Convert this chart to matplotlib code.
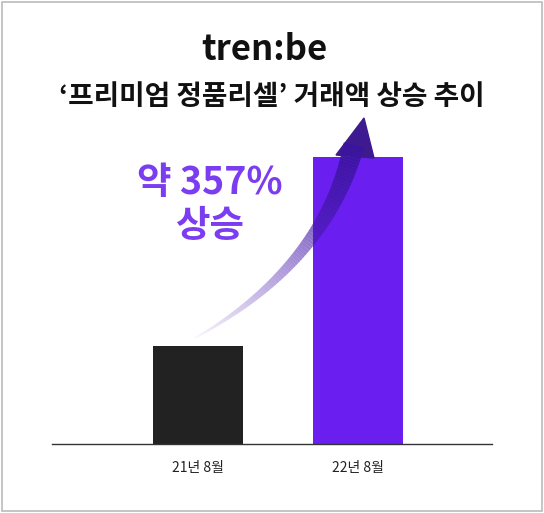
import matplotlib
matplotlib.use("Agg")
import matplotlib.pyplot as plt
import numpy as np
from matplotlib.collections import LineCollection
from matplotlib.patches import Polygon, Rectangle

plt.rcParams['font.family'] = ['Noto Sans CJK KR', 'DejaVu Sans']

categories = ['21년 8월', '22년 8월']
values = [98, 287]
colors = ['#222222', '#6a1ff0']

W, H = 544, 513
fig = plt.figure(figsize=(W/100, H/100), dpi=100)
fig.patch.set_facecolor('white')
fig.add_artist(Rectangle((0.004, 0.004), 0.992, 0.992, transform=fig.transFigure,
                         fill=False, edgecolor='#bbbbbb', lw=1.2))

ax = fig.add_axes([52/W, (H-444)/H, 440/W, 300/H])
ax.set_xlim(0, 440)
ax.set_ylim(0, 300)
ax.bar([146, 306], values, width=90, color=colors)
for s in ['top', 'right', 'left']:
    ax.spines[s].set_visible(False)
ax.spines['bottom'].set_color('#333333')
ax.spines['bottom'].set_linewidth(1)
ax.set_yticks([])
ax.set_xticks([146, 306])
ax.set_xticklabels(categories, fontsize=10, color='#222222')
ax.tick_params(axis='x', length=0, pad=12)

ov = fig.add_axes([0, 0, 1, 1])
ov.set_xlim(0, W); ov.set_ylim(H, 0); ov.axis('off')

ov.text(264, 50, 'tren:be', ha='center', va='center', fontsize=25, fontweight='bold', color='#111111')
ov.text(272, 97, '‘프리미엄 정품리셀’ 거래액 상승 추이', ha='center', va='center',
        fontsize=20, fontweight='bold', color='#111111')
ov.text(210, 204, '약 357%\n상승', ha='center', va='center', fontsize=27, fontweight='bold',
        color='#7b3df0', linespacing=1.15)

t = np.linspace(0, 1, 80)
p0, p1, p2 = np.array([195, 338]), np.array([325, 265]), np.array([354, 145])
pts = ((1-t)**2)[:, None]*p0 + (2*(1-t)*t)[:, None]*p1 + (t**2)[:, None]*p2
segs = np.stack([pts[:-1], pts[1:]], axis=1)
cols = [(0.33 - 0.1*a, 0.13 - 0.05*a, 0.72 - 0.1*a, a) for a in np.linspace(0.05, 1, len(segs))]
lws = np.linspace(1, 15, len(segs))
ov.add_collection(LineCollection(segs, colors=cols, linewidths=lws, capstyle='butt'))
ov.add_patch(Polygon([[336, 155], [374, 158], [364, 118]], closed=True, color='#3d1a8f'))

fig.savefig('out.png', dpi=100)
